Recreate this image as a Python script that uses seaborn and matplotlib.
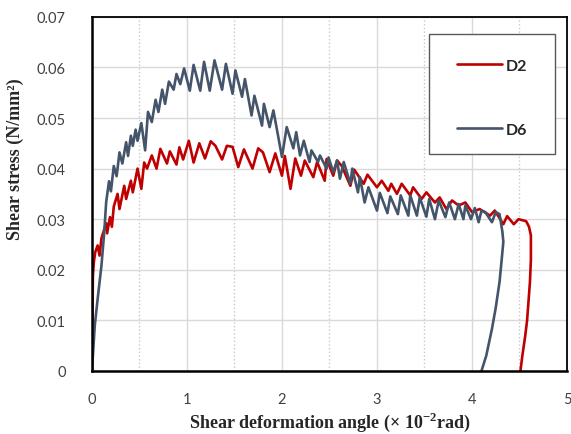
import matplotlib
matplotlib.use("Agg")
import matplotlib.pyplot as plt
from matplotlib.patches import Rectangle
from matplotlib.ticker import MultipleLocator
import seaborn as sns

# D2: shear deformation angle (x 10^-2 rad) and shear stress (N/mm2)
d2_x = [0.00, 0.005, 0.01, 0.02, 0.035, 0.06, 0.08, 0.10, 0.12, 0.15, 0.16, 0.19, 0.21,
        0.23, 0.27, 0.29, 0.34, 0.36, 0.41, 0.43, 0.48, 0.52, 0.55, 0.58, 0.63, 0.68,
        0.72, 0.79, 0.82, 0.89, 0.92, 0.96, 1.02, 1.07, 1.13, 1.19, 1.25, 1.30, 1.37,
        1.42, 1.48, 1.54, 1.60, 1.69, 1.75, 1.80, 1.87, 1.93, 2.00, 2.03, 2.09, 2.14,
        2.20, 2.24, 2.33, 2.37, 2.45, 2.47, 2.54, 2.58, 2.63, 2.72, 2.76, 2.86, 2.90,
        3.00, 3.05, 3.12, 3.15, 3.21, 3.26, 3.35, 3.38, 3.47, 3.52, 3.61, 3.66, 3.73,
        3.79, 3.86, 3.93, 4.00, 4.08, 4.19, 4.24, 4.33, 4.37, 4.44, 4.49, 4.57, 4.60,
        4.62, 4.62, 4.61, 4.58, 4.56, 4.53, 4.51]
d2_y = [0.000, 0.008, 0.0188, 0.0215, 0.0235, 0.0248, 0.0228, 0.0262, 0.0274, 0.0292,
        0.0272, 0.0304, 0.0285, 0.0325, 0.0350, 0.0320, 0.0366, 0.0340, 0.0376, 0.0353,
        0.0400, 0.0360, 0.0412, 0.0400, 0.0426, 0.0400, 0.0439, 0.0410, 0.0434, 0.0408,
        0.0442, 0.0418, 0.0455, 0.0412, 0.0450, 0.0420, 0.0454, 0.0445, 0.0418, 0.0445,
        0.0443, 0.0403, 0.0438, 0.0400, 0.0440, 0.0432, 0.0393, 0.0430, 0.0386, 0.0425,
        0.0360, 0.0420, 0.0386, 0.0416, 0.0383, 0.0413, 0.0376, 0.0419, 0.0386, 0.0416,
        0.0405, 0.0366, 0.0398, 0.0370, 0.0388, 0.0363, 0.0376, 0.0356, 0.0370, 0.0350,
        0.0370, 0.0347, 0.0363, 0.0340, 0.0353, 0.0333, 0.0343, 0.0320, 0.0337, 0.0327,
        0.0333, 0.0314, 0.0320, 0.0307, 0.0317, 0.0290, 0.0306, 0.0290, 0.0300, 0.0296,
        0.0285, 0.0268, 0.0220, 0.0176, 0.0100, 0.0069, 0.0030, 0.000]

# D6
d6_x = [0.00, 0.03, 0.06, 0.10, 0.13, 0.15, 0.18, 0.20, 0.23, 0.26, 0.29, 0.32, 0.36,
        0.38, 0.41, 0.43, 0.46, 0.48, 0.52, 0.56, 0.59, 0.63, 0.67, 0.70, 0.74, 0.77,
        0.81, 0.86, 0.89, 0.93, 0.97, 1.03, 1.07, 1.14, 1.18, 1.24, 1.29, 1.37, 1.41,
        1.48, 1.51, 1.58, 1.61, 1.68, 1.71, 1.79, 1.81, 1.87, 1.91, 2.00, 2.05, 2.12,
        2.15, 2.19, 2.23, 2.29, 2.31, 2.38, 2.40, 2.47, 2.49, 2.54, 2.58, 2.61, 2.65,
        2.72, 2.74, 2.80, 2.82, 2.87, 2.91, 3.00, 3.03, 3.11, 3.14, 3.22, 3.25, 3.33,
        3.35, 3.42, 3.45, 3.52, 3.55, 3.61, 3.65, 3.72, 3.76, 3.82, 3.86, 3.91, 3.93,
        3.99, 4.03, 4.07, 4.10, 4.14, 4.21, 4.25, 4.29, 4.32, 4.33, 4.31, 4.29, 4.25,
        4.21, 4.15, 4.10]
d6_y = [0.000, 0.0090, 0.0142, 0.0208, 0.0275, 0.0334, 0.0375, 0.0355, 0.0405, 0.0385,
        0.0432, 0.0410, 0.0452, 0.0425, 0.0465, 0.0445, 0.0477, 0.0455, 0.0490, 0.0436,
        0.0512, 0.0492, 0.0536, 0.0512, 0.0556, 0.0528, 0.0572, 0.0556, 0.0587, 0.0567,
        0.0598, 0.0554, 0.0605, 0.0554, 0.0611, 0.0554, 0.0614, 0.0556, 0.0607, 0.0548,
        0.0594, 0.0542, 0.0577, 0.0505, 0.0544, 0.0485, 0.0528, 0.0482, 0.0515, 0.0423,
        0.0482, 0.0440, 0.0472, 0.0426, 0.0455, 0.0413, 0.0436, 0.0413, 0.0426, 0.0400,
        0.0422, 0.0393, 0.0416, 0.0380, 0.0413, 0.0370, 0.0400, 0.0353, 0.0383, 0.0333,
        0.0363, 0.0317, 0.0352, 0.0312, 0.0345, 0.0310, 0.0347, 0.0307, 0.0347, 0.0307,
        0.0343, 0.0305, 0.0340, 0.0300, 0.0337, 0.0304, 0.0333, 0.0300, 0.0330, 0.0300,
        0.0327, 0.0300, 0.0322, 0.0294, 0.0317, 0.0314, 0.0294, 0.0314, 0.0310, 0.0275,
        0.0255, 0.0215, 0.0176, 0.0125, 0.0083, 0.0030, 0.000]

x_ticks = [0, 1, 2, 3, 4, 5]
y_ticks = [0, 0.01, 0.02, 0.03, 0.04, 0.05, 0.06, 0.07]
y_tick_labels = ["0", "0.01", "0.02", "0.03", "0.04", "0.05", "0.06", "0.07"]

sns.set_style("white")
plt.rcParams['mathtext.fontset'] = 'custom'
plt.rcParams['mathtext.rm'] = 'Liberation Serif:bold'
plt.rcParams['mathtext.bf'] = 'Liberation Serif:bold'

fig = plt.figure(figsize=(5.71, 4.35), dpi=100)
ax = fig.add_axes([0.161, 0.145, 0.832, 0.814])

sns.lineplot(x=d2_x, y=d2_y, sort=False, estimator=None, color="#C00000", lw=1.9, label="D2", ax=ax)
sns.lineplot(x=d6_x, y=d6_y, sort=False, estimator=None, color="#44546A", lw=1.9, label="D6", ax=ax)

ax.set_xlim(0, 5)
ax.set_ylim(0, 0.07)
ax.set_xticks(x_ticks)
ax.set_yticks(y_ticks)
ax.set_yticklabels(y_tick_labels)
ax.xaxis.set_minor_locator(MultipleLocator(0.5))

# gridlines: solid majors, dotted half steps on x
ax.grid(True, which="major", color="#d9d9d9", lw=1.0, ls="-")
ax.grid(True, which="minor", axis="x", color="#c8c8c8", lw=1.0, ls=":")
ax.set_axisbelow(True)

for side in ["top", "right", "left", "bottom"]:
    ax.spines[side].set_color("black")
    ax.spines[side].set_linewidth(1.3)
ax.spines["left"].set_linewidth(1.8)
ax.spines["bottom"].set_linewidth(1.8)

ax.tick_params(axis="both", which="both", length=0, labelsize=10.5, labelcolor="#404040")
ax.tick_params(axis="y", pad=19)
ax.tick_params(axis="x", pad=15)
for t in ax.get_xticklabels() + ax.get_yticklabels():
    t.set_family("Lato")

ax.set_xlabel(r"Shear deformation angle (× 10$^{\mathbf{-2}}$rad)", family="Liberation Serif",
              fontweight="bold", fontsize=13)
ax.set_ylabel("Shear stress (N/mm²)", family="Liberation Serif", fontweight="bold", fontsize=13)
ax.xaxis.set_label_coords(0.5, -0.11)
ax.yaxis.set_label_coords(-0.143, 0.6)

# legend box
ax.add_patch(Rectangle((0.709, 0.613), 0.265, 0.339, transform=ax.transAxes,
                       facecolor="white", edgecolor="#595959", lw=1.0, zorder=3))
leg = ax.legend(loc="center", bbox_to_anchor=(0.842, 0.772), frameon=False,
                handlelength=2.8, handletextpad=0.25, labelspacing=3.1,
                prop={"family": "Lato", "weight": "bold", "size": 11.5})
leg.set_zorder(4)

fig.savefig("out.png", dpi=100)
